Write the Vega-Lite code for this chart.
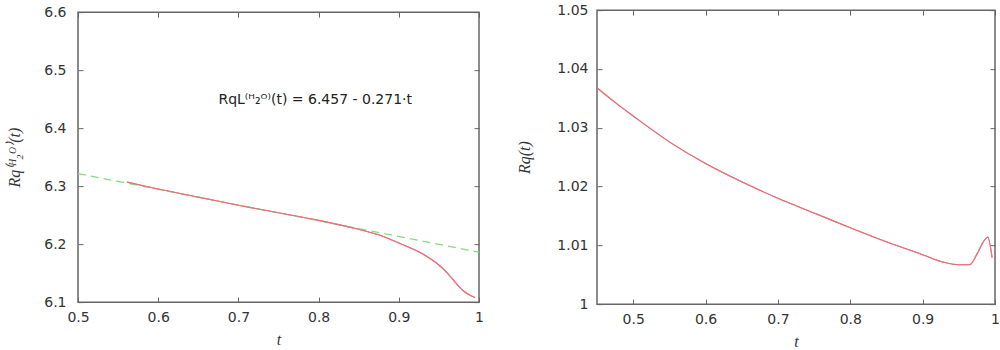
{
  "$schema": "https://vega.github.io/schema/vega-lite/v6.json",
  "background": "white",
  "padding": {"left": 5, "top": 2, "right": 0, "bottom": 0},
  "autosize": {"type": "pad"},
  "center": true,
  "spacing": 31,
  "config": {
    "view": {"stroke": "#666", "strokeWidth": 1.5},
    "axis": {
      "grid": false, "domain": false, "labelFlush": false,
      "labelFont": "DejaVu Sans", "labelFontSize": 14, "labelColor": "#333",
      "tickColor": "#666", "tickSize": -5, "tickWidth": 1,
      "titleFont": "Liberation Serif", "titleFontStyle": "italic", "titleFontWeight": "normal",
      "titleFontSize": 16, "titleColor": "#333"
    }
  },
  "datasets": {
    "leftCurve": [
      {"t": 0.561, "R": 6.307}, {"t": 0.58, "R": 6.301}, {"t": 0.6, "R": 6.295},
      {"t": 0.65, "R": 6.281}, {"t": 0.7, "R": 6.267}, {"t": 0.75, "R": 6.254},
      {"t": 0.8, "R": 6.241}, {"t": 0.85, "R": 6.2255}, {"t": 0.875, "R": 6.216},
      {"t": 0.9, "R": 6.202}, {"t": 0.93, "R": 6.183}, {"t": 0.95, "R": 6.164},
      {"t": 0.96, "R": 6.151}, {"t": 0.97, "R": 6.135}, {"t": 0.98, "R": 6.120},
      {"t": 0.99, "R": 6.111}, {"t": 0.995, "R": 6.108}
    ],
    "leftFit": [{"t": 0.5, "R": 6.3215}, {"t": 1.0, "R": 6.186}],
    "leftNote": [{"t": 0.9165, "R": 6.449, "label": "RqL⁽ᴴ₂ᴼ⁾(t) = 6.457 - 0.271·t"}],
    "rightCurve": [
      {"t": 0.45, "R": 1.0368}, {"t": 0.475, "R": 1.0343}, {"t": 0.5, "R": 1.0320},
      {"t": 0.55, "R": 1.0276}, {"t": 0.6, "R": 1.0239}, {"t": 0.65, "R": 1.0208},
      {"t": 0.7, "R": 1.0180}, {"t": 0.75, "R": 1.0155}, {"t": 0.8, "R": 1.0130},
      {"t": 0.85, "R": 1.0106}, {"t": 0.9, "R": 1.0084}, {"t": 0.93, "R": 1.0071},
      {"t": 0.95, "R": 1.0067}, {"t": 0.965, "R": 1.0067}, {"t": 0.975, "R": 1.0085},
      {"t": 0.985, "R": 1.0108}, {"t": 0.99, "R": 1.0114}, {"t": 0.996, "R": 1.0079}
    ]
  },
  "hconcat": [
    {
      "width": 401, "height": 290,
      "resolve": {"axis": {"x": "independent", "y": "independent"}},
      "layer": [
        {
          "data": {"name": "leftCurve"},
          "mark": {"type": "line", "color": "#e8707a", "strokeWidth": 1.1, "interpolate": "monotone"},
          "encoding": {
            "x": {"field": "t", "type": "quantitative", "scale": {"domain": [0.5, 1], "nice": false, "zero": false},
                  "axis": {"orient": "bottom", "values": [0.5, 0.6, 0.7, 0.8, 0.9, 1], "format": "~g", "title": "t", "labelPadding": 13, "titlePadding": 7}},
            "y": {"field": "R", "type": "quantitative", "scale": {"domain": [6.1, 6.6], "nice": false, "zero": false},
                  "axis": {"orient": "left", "values": [6.1, 6.2, 6.3, 6.4, 6.5, 6.6], "format": "~g", "title": "Rq⁽ᴴ₂ᴼ⁾(t)", "labelPadding": 17, "titlePadding": 21}}
          }
        },
        {
          "data": {"name": "leftFit"},
          "mark": {"type": "line", "color": "#80dd80", "strokeWidth": 1.3, "strokeDash": [8, 5]},
          "encoding": {
            "x": {"field": "t", "type": "quantitative", "axis": null},
            "y": {"field": "R", "type": "quantitative", "axis": null}
          }
        },
        {
          "data": {"name": "leftNote"},
          "mark": {"type": "text", "align": "right", "baseline": "middle", "font": "DejaVu Sans", "fontSize": 14, "color": "#222"},
          "encoding": {
            "x": {"field": "t", "type": "quantitative", "axis": null},
            "y": {"field": "R", "type": "quantitative", "axis": null},
            "text": {"field": "label"}
          }
        },
        {
          "data": {"name": "leftCurve"},
          "mark": {"type": "line", "color": "#e8707a", "strokeWidth": 1.1, "interpolate": "monotone"},
          "encoding": {
            "x": {"field": "t", "type": "quantitative",
                  "axis": {"orient": "top", "values": [0.5, 0.6, 0.7, 0.8, 0.9, 1], "labels": false, "title": null}},
            "y": {"field": "R", "type": "quantitative",
                  "axis": {"orient": "right", "values": [6.1, 6.2, 6.3, 6.4, 6.5, 6.6], "labels": false, "title": null}}
          }
        }
      ]
    },
    {
      "width": 398, "height": 294,
      "resolve": {"axis": {"x": "independent", "y": "independent"}},
      "layer": [
        {
          "data": {"name": "rightCurve"},
          "mark": {"type": "line", "color": "#e8707a", "strokeWidth": 1.1, "interpolate": "monotone"},
          "encoding": {
            "x": {"field": "t", "type": "quantitative", "scale": {"domain": [0.45, 1], "nice": false, "zero": false},
                  "axis": {"orient": "bottom", "values": [0.5, 0.6, 0.7, 0.8, 0.9, 1], "format": "~g", "title": "t", "labelPadding": 13, "titlePadding": 7}},
            "y": {"field": "R", "type": "quantitative", "scale": {"domain": [1, 1.05], "nice": false, "zero": false},
                  "axis": {"orient": "left", "values": [1, 1.01, 1.02, 1.03, 1.04, 1.05], "format": "~g", "title": "Rq(t)", "labelPadding": 14, "titlePadding": 24}}
          }
        },
        {
          "data": {"name": "rightCurve"},
          "mark": {"type": "line", "color": "#e8707a", "strokeWidth": 1.1, "interpolate": "monotone"},
          "encoding": {
            "x": {"field": "t", "type": "quantitative",
                  "axis": {"orient": "top", "values": [0.5, 0.6, 0.7, 0.8, 0.9, 1], "labels": false, "title": null}},
            "y": {"field": "R", "type": "quantitative",
                  "axis": {"orient": "right", "values": [1, 1.01, 1.02, 1.03, 1.04, 1.05], "labels": false, "title": null}}
          }
        }
      ]
    }
  ]
}
